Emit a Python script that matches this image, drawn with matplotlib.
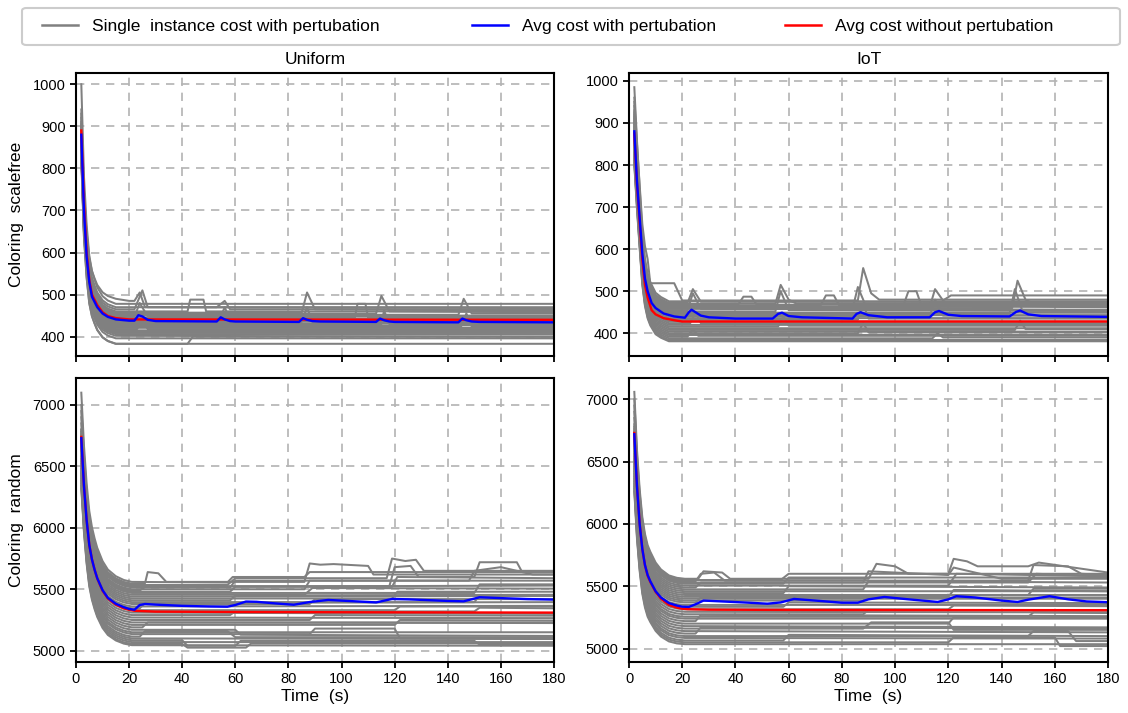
import matplotlib
matplotlib.use("Agg")
import matplotlib.pyplot as plt
from matplotlib.lines import Line2D
from matplotlib.patches import FancyBboxPatch

plt.rcParams['font.family'] = ['Liberation Sans', 'DejaVu Sans']

# ---------------- data ----------------
x_ticks = [0, 20, 40, 60, 80, 100, 120, 140, 160, 180]
col_titles = ["Uniform", "IoT"]
row_labels = ["Coloring  scalefree", "Coloring  random"]
legend_labels = ["Single  instance cost with pertubation",
                 "Avg cost with pertubation",
                 "Avg cost without pertubation"]

# shared normalised early-decay profiles
decay_t_top = [2, 3, 4, 5, 6, 7, 8, 10, 12, 15]
decay_uniform_top = [1.0, 0.58, 0.36, 0.22, 0.15, 0.11, 0.075, 0.035, 0.015, 0.0]
decay_iot_top = [1.0, 0.75, 0.53, 0.32, 0.20, 0.13, 0.09, 0.04, 0.02, 0.0]
decay_t_bot = [2, 3, 4, 5, 6, 7, 8, 10, 12, 15, 18, 21]
decay_uniform_bot = [1.0, 0.72, 0.52, 0.375, 0.29, 0.23, 0.18, 0.11, 0.065, 0.03, 0.01, 0.0]
decay_iot_bot = [1.0, 0.69, 0.48, 0.33, 0.24, 0.18, 0.145, 0.087, 0.05, 0.018, 0.005, 0.0]

# ---- Uniform / scalefree ----
uni_sf_inst = [
    (1000, [(15, 478), (180, 478)]),
    (940, [(15, 470), (180, 470)]),
    (930, [(15, 490), (20, 485), (22, 485), (24, 505), (26, 470), (180, 468)]),
    (920, [(15, 465), (22, 465), (25, 510), (27, 470), (53, 470), (56, 485), (58, 465), (180, 465)]),
    (910, [(15, 460), (42, 460), (43, 488), (48, 488), (49, 460), (180, 460)]),
    (905, [(15, 457), (85, 457), (87, 505), (90, 465), (180, 462)]),
    (900, [(15, 455), (113, 455), (115, 497), (118, 460), (180, 458)]),
    (895, [(15, 452), (144, 452), (146, 490), (149, 455), (180, 455)]),
    (890, [(15, 450), (180, 450)]),
    (885, [(15, 447), (22, 447), (24, 480), (27, 448), (180, 447)]),
    (880, [(15, 445), (105, 445), (106, 478), (109, 478), (110, 445), (180, 445)]),
    (880, [(15, 442), (180, 442)]),
    (875, [(15, 440), (54, 440), (56, 470), (58, 440), (180, 440)]),
    (870, [(15, 437), (180, 437)]),
    (870, [(15, 435), (85, 435), (87, 470), (89, 435), (180, 433)]),
    (865, [(15, 432), (180, 432)]),
    (860, [(15, 430), (115, 430), (116, 462), (118, 430), (180, 430)]),
    (860, [(15, 427), (180, 427)]),
    (855, [(15, 424), (145, 424), (147, 455), (149, 424), (180, 424)]),
    (850, [(15, 421), (180, 421)]),
    (850, [(15, 418), (23, 418), (25, 440), (27, 418), (180, 418)]),
    (845, [(15, 415), (180, 415)]),
    (840, [(15, 412), (180, 412)]),
    (840, [(15, 409), (180, 409)]),
    (835, [(15, 406), (180, 406)]),
    (830, [(15, 402), (180, 400)]),
    (830, [(15, 396), (180, 396)]),
    (825, [(15, 383), (180, 383)]),
    (820, [(15, 383), (42, 383), (44, 400), (180, 400)]),
]
uni_sf_avg_t = [2, 3, 4, 5, 6, 8, 10, 12, 15, 20, 22, 23.5, 25, 27, 30, 53, 54.5, 56, 58, 60,
                84, 85.5, 87, 89, 92, 113, 114.5, 116, 118, 120, 144, 145.5, 147, 149, 152, 180]
uni_sf_avg = [880, 700, 590, 530, 495, 470, 455, 447, 441, 438, 438, 451, 448, 440, 437, 436,
              446, 441, 437, 436, 435, 444, 440, 437, 436, 435, 443, 439, 436, 435, 434, 443,
              439, 436, 435, 434]
uni_sf_base_t = [2, 3, 4, 5, 6, 8, 10, 12, 15, 20, 180]
uni_sf_base = [890, 720, 600, 535, 500, 475, 458, 449, 444, 441, 440]

# ---- IoT / scalefree ----
iot_sf_inst = [
    (985, [(15, 476), (180, 476)]),
    (960, [(8, 519), (17, 519), (20, 478), (86, 478), (88, 555), (91, 495), (94, 480), (180, 480)]),
    (950, [(15, 472), (22, 472), (24, 505), (27, 475), (180, 474)]),
    (940, [(15, 470), (55, 470), (57, 515), (60, 480), (63, 470), (180, 470)]),
    (930, [(15, 468), (41, 468), (43, 487), (46, 487), (48, 468), (180, 468)]),
    (925, [(15, 466), (72, 466), (74, 490), (77, 490), (79, 466), (180, 466)]),
    (920, [(15, 464), (103, 464), (105, 500), (108, 500), (110, 464), (180, 464)]),
    (915, [(15, 462), (113, 462), (115, 505), (118, 478), (121, 490), (180, 490)]),
    (910, [(15, 460), (144, 460), (146, 525), (149, 480), (152, 470), (180, 470)]),
    (905, [(15, 458), (84, 458), (86, 510), (89, 465), (180, 462)]),
    (900, [(15, 455), (22, 455), (24, 495), (27, 458), (180, 456)]),
    (895, [(15, 452), (55, 452), (57, 500), (60, 455), (180, 453)]),
    (890, [(15, 449), (180, 449)]),
    (885, [(15, 446), (143, 446), (145, 505), (148, 450), (180, 450)]),
    (880, [(15, 443), (180, 443)]),
    (875, [(15, 440), (113, 440), (115, 480), (118, 442), (180, 442)]),
    (870, [(15, 436), (180, 436)]),
    (865, [(15, 432), (86, 432), (88, 470), (90, 435), (180, 435)]),
    (860, [(15, 428), (180, 428)]),
    (855, [(15, 424), (23, 424), (25, 450), (27, 424), (180, 424)]),
    (850, [(15, 420), (180, 420)]),
    (845, [(15, 416), (56, 416), (58, 440), (60, 418), (180, 418)]),
    (840, [(15, 412), (180, 412)]),
    (835, [(15, 408), (145, 408), (147, 430), (149, 410), (180, 410)]),
    (830, [(15, 404), (180, 404)]),
    (825, [(15, 400), (86, 400), (88, 425), (90, 402), (180, 402)]),
    (820, [(15, 396), (180, 396)]),
    (815, [(15, 392), (22, 392), (24, 410), (26, 394), (180, 394)]),
    (810, [(15, 388), (114, 388), (116, 400), (118, 390), (180, 390)]),
    (805, [(15, 384), (180, 384)]),
    (800, [(15, 381), (180, 381)]),
]
iot_sf_avg_t = [2, 3, 4, 5, 6, 7, 8.5, 10, 13, 17, 21, 22.5, 23.5, 25, 27, 30, 40, 54, 56, 57.5,
                60, 65, 84, 85.5, 87, 90, 97, 113, 115, 116.5, 120, 125, 143, 145.5, 147, 150, 155, 180]
iot_sf_avg = [880, 760, 675, 590, 530, 500, 472, 460, 447, 440, 437, 450, 456, 450, 442, 438, 435,
              435, 446, 449, 441, 438, 435, 446, 450, 443, 438, 438, 450, 453, 444, 441, 440, 451,
              454, 445, 441, 439]
iot_sf_base_t = [2, 3, 4, 5, 6, 7, 8.5, 10, 13, 17, 20, 180]
iot_sf_base = [875, 755, 665, 575, 515, 485, 455, 445, 436, 431, 428, 428]

# ---- Uniform / random ----
uni_rd_inst = [
    (7100, [(21, 5560), (57, 5555), (59, 5600), (86, 5600), (88, 5640), (180, 5640)]),
    (7000, [(21, 5545), (26, 5550), (27, 5640), (31, 5630), (34, 5560), (86, 5560), (88, 5710),
            (92, 5700), (97, 5705), (110, 5690), (112, 5620), (180, 5620)]),
    (6950, [(21, 5535), (57, 5535), (60, 5590), (117, 5590), (119, 5750), (124, 5730), (128, 5740),
            (131, 5650), (180, 5650)]),
    (6900, [(21, 5525), (118, 5525), (120, 5680), (126, 5690), (129, 5600), (150, 5600), (152, 5720),
            (166, 5720), (168, 5640), (180, 5640)]),
    (6850, [(21, 5515), (58, 5515), (60, 5570), (148, 5570), (150, 5650), (160, 5680), (172, 5620),
            (180, 5620)]),
    (6800, [(21, 5500), (86, 5500), (88, 5570), (180, 5570)]),
    (6800, [(21, 5490), (24, 5490), (26, 5520), (180, 5530)]),
    (6780, [(21, 5480), (58, 5480), (60, 5520), (119, 5520), (121, 5600), (180, 5590)]),
    (6760, [(21, 5470), (150, 5470), (152, 5540), (180, 5540)]),
    (6740, [(21, 5455), (86, 5455), (89, 5510), (180, 5505)]),
    (6720, [(21, 5440), (180, 5445)]),
    (6700, [(21, 5425), (119, 5425), (121, 5480), (180, 5480)]),
    (6700, [(21, 5410), (58, 5410), (60, 5450), (180, 5455)]),
    (6680, [(21, 5395), (150, 5395), (152, 5450), (180, 5450)]),
    (6660, [(21, 5380), (88, 5380), (90, 5420), (180, 5420)]),
    (6650, [(21, 5360), (180, 5365)]),
    (6640, [(21, 5345), (24, 5345), (26, 5390), (180, 5395)]),
    (6620, [(21, 5330), (120, 5330), (122, 5360), (180, 5360)]),
    (6600, [(21, 5310), (180, 5300)]),
    (6580, [(21, 5290), (58, 5290), (60, 5320), (150, 5320), (152, 5350), (180, 5345)]),
    (6560, [(21, 5270), (180, 5265)]),
    (6540, [(21, 5250), (88, 5250), (90, 5290), (180, 5285)]),
    (6520, [(21, 5230), (180, 5225)]),
    (6500, [(21, 5210), (120, 5210), (122, 5250), (180, 5245)]),
    (6480, [(21, 5190), (25, 5190), (27, 5230), (180, 5230)]),
    (6460, [(21, 5170), (60, 5170), (62, 5130), (180, 5120)]),
    (6450, [(21, 5150), (180, 5150)]),
    (6440, [(21, 5135), (88, 5135), (90, 5180), (120, 5180), (122, 5100), (180, 5100)]),
    (6420, [(21, 5115), (24, 5115), (26, 5160), (57, 5160), (60, 5110), (180, 5110)]),
    (6400, [(21, 5100), (180, 5095)]),
    (6380, [(21, 5085), (40, 5085), (42, 5040), (60, 5040), (62, 5080), (150, 5080), (152, 5050),
            (180, 5050)]),
    (6360, [(21, 5070), (180, 5070)]),
    (6340, [(21, 5055), (40, 5055), (42, 5025), (64, 5025), (66, 5060), (180, 5060)]),
    (6320, [(21, 5045), (180, 5040)]),
]
uni_rd_avg_t = [2, 3, 4, 5, 6, 7, 8, 10, 12, 15, 18, 20, 22, 24, 26, 30, 40, 50, 57, 60, 64, 68,
                75, 82, 88, 95, 105, 113, 119, 125, 140, 146, 152, 160, 170, 180]
uni_rd_avg = [6729, 6340, 6062, 5861, 5743, 5659, 5590, 5493, 5430, 5382, 5354, 5340, 5333, 5372,
              5380, 5375, 5365, 5360, 5358, 5372, 5400, 5398, 5385, 5374, 5396, 5413, 5402, 5393,
              5421, 5418, 5405, 5402, 5435, 5428, 5420, 5416]
uni_rd_base_t = [2, 3, 4, 5, 6, 7, 8, 10, 12, 15, 18, 20, 22, 30, 60, 100, 180]
uni_rd_base = [6740, 6345, 6065, 5862, 5744, 5659, 5588, 5488, 5425, 5375, 5345, 5333, 5325, 5318,
               5315, 5313, 5310]

# ---- IoT / random ----
iot_rd_inst = [
    (7060, [(21, 5560), (26, 5560), (28, 5620), (35, 5610), (38, 5560), (90, 5560), (93, 5680),
            (100, 5660), (105, 5600), (180, 5600)]),
    (7000, [(21, 5550), (57, 5550), (60, 5600), (120, 5600), (122, 5720), (127, 5700), (131, 5660),
            (150, 5660), (154, 5690), (180, 5610)]),
    (6950, [(21, 5540), (25, 5540), (27, 5600), (32, 5610), (36, 5545), (150, 5545), (152, 5670),
            (165, 5660), (170, 5600), (180, 5590)]),
    (6900, [(21, 5530), (88, 5530), (90, 5620), (110, 5600), (120, 5590), (122, 5650), (140, 5560),
            (180, 5560)]),
    (6850, [(21, 5520), (58, 5520), (60, 5570), (180, 5570)]),
    (6800, [(21, 5505), (120, 5505), (123, 5600), (180, 5580)]),
    (6780, [(21, 5490), (25, 5490), (27, 5530), (150, 5530), (153, 5600), (180, 5580)]),
    (6760, [(21, 5475), (88, 5475), (90, 5540), (180, 5530)]),
    (6740, [(21, 5460), (180, 5460)]),
    (6720, [(21, 5445), (58, 5445), (60, 5500), (180, 5490)]),
    (6700, [(21, 5430), (150, 5430), (152, 5480), (180, 5480)]),
    (6680, [(21, 5415), (120, 5415), (122, 5470), (180, 5460)]),
    (6660, [(21, 5400), (180, 5400)]),
    (6640, [(21, 5385), (88, 5385), (90, 5430), (180, 5430)]),
    (6620, [(21, 5370), (25, 5370), (27, 5410), (180, 5410)]),
    (6600, [(21, 5350), (180, 5350)]),
    (6580, [(21, 5335), (58, 5335), (60, 5370), (180, 5365)]),
    (6560, [(21, 5315), (120, 5315), (122, 5345), (180, 5340)]),
    (6540, [(21, 5295), (180, 5290)]),
    (6520, [(21, 5275), (88, 5275), (90, 5310), (180, 5305)]),
    (6500, [(21, 5255), (150, 5255), (152, 5290), (180, 5285)]),
    (6480, [(21, 5240), (180, 5240)]),
    (6460, [(21, 5220), (25, 5220), (27, 5270), (180, 5260)]),
    (6440, [(21, 5200), (120, 5200), (122, 5250), (180, 5245)]),
    (6420, [(21, 5180), (180, 5170)]),
    (6400, [(21, 5160), (88, 5160), (91, 5210), (120, 5210), (122, 5150), (180, 5150)]),
    (6380, [(21, 5140), (180, 5130)]),
    (6360, [(21, 5120), (25, 5120), (27, 5170), (180, 5160)]),
    (6340, [(21, 5100), (150, 5100), (152, 5140), (165, 5140), (168, 5060), (180, 5060)]),
    (6320, [(21, 5085), (180, 5080)]),
    (6300, [(21, 5065), (58, 5065), (60, 5110), (180, 5100)]),
    (6280, [(21, 5050), (120, 5050), (122, 5090), (160, 5090), (162, 5020), (180, 5020)]),
    (6260, [(21, 5035), (180, 5035)]),
]
iot_rd_avg_t = [2, 3, 4, 5, 6, 7, 8, 10, 12, 15, 18, 20, 22.5, 25, 28, 35, 45, 52, 57, 62, 70, 80,
                86, 90, 96, 105, 116, 120, 123, 130, 140, 146, 150, 158, 165, 172, 180]
iot_rd_avg = [6720, 6300, 6000, 5800, 5670, 5590, 5540, 5460, 5410, 5365, 5345, 5336, 5334, 5355,
              5385, 5378, 5368, 5360, 5370, 5398, 5385, 5368, 5368, 5395, 5414, 5395, 5374, 5395,
              5420, 5410, 5385, 5374, 5392, 5420, 5395, 5378, 5372]
iot_rd_base_t = [2, 3, 4, 5, 6, 7, 8, 10, 12, 15, 18, 20, 22, 30, 60, 100, 180]
iot_rd_base = [6730, 6305, 6005, 5800, 5668, 5585, 5535, 5455, 5400, 5350, 5328, 5320, 5316, 5312,
               5310, 5309, 5308]

y_ticks_top = [400, 500, 600, 700, 800, 900, 1000]
y_ticks_bot = [5000, 5500, 6000, 6500, 7000]

# ---------------- drawing ----------------
GRAY = "#808080"
W, H = 1128, 713
fig = plt.figure(figsize=(W / 100, H / 100), dpi=100)


def build(start, path, td, fr):
    t0, level = path[0]
    ts = [t for t in td if t < t0]
    vs = [level + (start - level) * f for t, f in zip(td, fr) if t < t0]
    ts += [p[0] for p in path]
    vs += [p[1] for p in path]
    return ts, vs


panels = [
    dict(rect=(76, 73.3, 554, 356), inst=uni_sf_inst, td=decay_t_top, fr=decay_uniform_top,
         at=uni_sf_avg_t, av=uni_sf_avg, bt=uni_sf_base_t, bv=uni_sf_base,
         ylim=(354, 1026), yt=y_ticks_top, title=col_titles[0], ylabel=row_labels[0], xlab=False),
    dict(rect=(629, 73.3, 1108, 356), inst=iot_sf_inst, td=decay_t_top, fr=decay_iot_top,
         at=iot_sf_avg_t, av=iot_sf_avg, bt=iot_sf_base_t, bv=iot_sf_base,
         ylim=(346, 1018), yt=y_ticks_top, title=col_titles[1], ylabel=None, xlab=False),
    dict(rect=(76, 378.3, 554, 662), inst=uni_rd_inst, td=decay_t_bot, fr=decay_uniform_bot,
         at=uni_rd_avg_t, av=uni_rd_avg, bt=uni_rd_base_t, bv=uni_rd_base,
         ylim=(4908, 7217), yt=y_ticks_bot, title=None, ylabel=row_labels[1], xlab=True),
    dict(rect=(629, 378.3, 1108, 662), inst=iot_rd_inst, td=decay_t_bot, fr=decay_iot_bot,
         at=iot_rd_avg_t, av=iot_rd_avg, bt=iot_rd_base_t, bv=iot_rd_base,
         ylim=(4892, 7169), yt=y_ticks_bot, title=None, ylabel=None, xlab=True),
]

for p in panels:
    x0, y0, x1, y1 = p["rect"]
    ax = fig.add_axes([x0 / W, 1 - y1 / H, (x1 - x0) / W, (y1 - y0) / H])
    ax.set_axisbelow(True)
    ax.grid(True, color="#b3b3b3", linestyle=(0, (5, 4)), linewidth=1.2)
    for start, path in p["inst"]:
        ts, vs = build(start, path, p["td"], p["fr"])
        ax.plot(ts, vs, color=GRAY, linewidth=1.45, solid_joinstyle="round")
    ax.plot(p["bt"], p["bv"], color="#ff0000", linewidth=1.7)
    ax.plot(p["at"], p["av"], color="#0000ff", linewidth=1.7)
    ax.set_xlim(0, 180)
    ax.set_ylim(*p["ylim"])
    ax.set_xticks(x_ticks)
    ax.set_yticks(p["yt"])
    ax.tick_params(direction="out", length=4, width=1.3, labelsize=10.5, colors="black")
    for s in ax.spines.values():
        s.set_linewidth(1.5)
        s.set_color("black")
    if p["xlab"]:
        ax.set_xlabel("Time  (s)", fontsize=12.5, labelpad=2)
    else:
        ax.set_xticklabels([])
    if p["title"]:
        ax.set_title(p["title"], fontsize=12.5, pad=7)
    if p["ylabel"]:
        ax.set_ylabel(p["ylabel"], fontsize=12.5, labelpad=6)

# legend frame (rounded, light grey) spanning the figure width
frame = FancyBboxPatch((22 / W, 1 - 45 / H), 1098 / W, 37 / H,
                       boxstyle="round,pad=0,rounding_size=0.004",
                       transform=fig.transFigure, facecolor="white",
                       edgecolor="#cccccc", linewidth=1.5)
fig.patches.append(frame)

legend_colors = [GRAY, "#0000ff", "#ff0000"]
legend_x = [42, 472, 785]
for lbl, col, lx in zip(legend_labels, legend_colors, legend_x):
    h = Line2D([], [], color=col, linewidth=1.8)
    leg = fig.legend([h], [lbl], loc="center left",
                     bbox_to_anchor=(lx / W, 1 - 26.5 / H),
                     fontsize=12.5, frameon=False, handlelength=2.1,
                     handletextpad=0.8, borderpad=0.0, borderaxespad=0.0)

fig.savefig("out.png", dpi=100)
